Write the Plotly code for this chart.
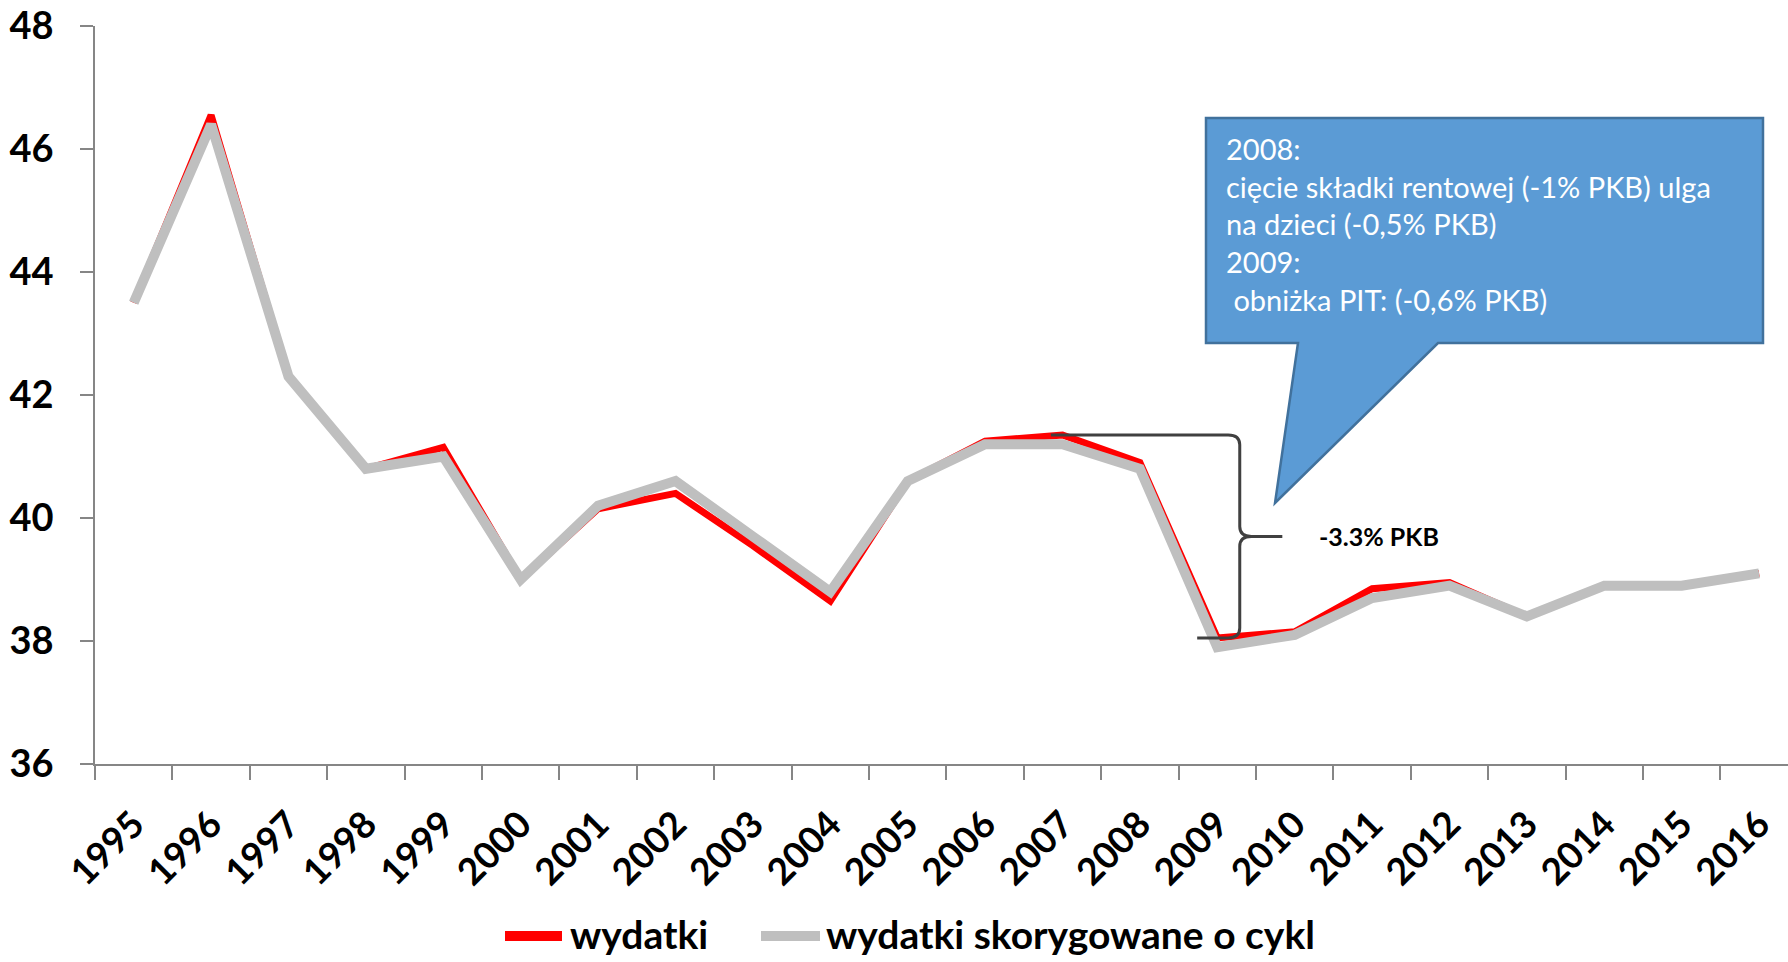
import plotly.graph_objects as go

# ---- data -------------------------------------------------------------
years = list(range(1995, 2017))
wydatki = [43.5, 46.55, 42.3, 40.8, 41.15, 39.0, 40.15, 40.4, 39.55, 38.65, 40.6,
           41.25, 41.35, 40.9, 38.05, 38.15, 38.85, 38.95, 38.4, 38.9, 38.9, 39.1]
wydatki_skorygowane = [43.5, 46.4, 42.3, 40.8, 41.0, 39.0, 40.2, 40.6, 39.7, 38.8, 40.6,
                       41.2, 41.2, 40.8, 37.9, 38.1, 38.7, 38.9, 38.4, 38.9, 38.9, 39.1]
y_ticks = [36, 38, 40, 42, 44, 46, 48]
series_names = ["wydatki", "wydatki skorygowane o cykl"]
series_colors = ["#FF0000", "#BFBFBF"]
series_widths = [7, 10]
callout_lines = [
    "2008:",
    "cięcie składki rentowej (-1% PKB) ulga",
    "na dzieci (-0,5% PKB)",
    "2009:",
    "\u00a0obniżka PIT: (-0,6% PKB)",
]

# ---- page geometry (pixels) -------------------------------------------
W, H = 1788, 962
M_L, M_R, M_T, M_B = 95, 0, 26, 198
PLOT_W = W - M_L - M_R
PLOT_H = H - M_T - M_B
CAT_W = 77.4  # pixel width of one year slot


def px(xp):
    return (xp - M_L) / PLOT_W


def py(yp):
    return (H - M_B - yp) / PLOT_H


FONT = "Lato"
AXIS_GREY = "#868686"

fig = go.Figure()
for name, values, color, width in zip(series_names, [wydatki, wydatki_skorygowane],
                                      series_colors, series_widths):
    fig.add_trace(go.Scatter(
        x=years, y=values, name=name, mode="lines",
        line=dict(color=color, width=width, shape="linear"),
    ))

# ---- brace spanning the 2007 -> 2009 drop -----------------------------
i07, i09 = years.index(2007), years.index(2009)
y_top, y_bot = wydatki[i07], wydatki[i09]
y_mid = (y_top + y_bot) / 2
x_start, x_spine, x_tip, x_end = 2006.85, 2009.29, 2009.84, 2008.74
rx, ry = 0.15, 0.16
brace = (
    f"M {x_start},{y_top} L {x_spine - rx},{y_top} "
    f"Q {x_spine},{y_top} {x_spine},{y_top - ry} "
    f"L {x_spine},{y_mid + ry} Q {x_spine},{y_mid} {x_spine + rx},{y_mid} "
    f"L {x_tip},{y_mid} "
    f"M {x_spine + rx},{y_mid} Q {x_spine},{y_mid} {x_spine},{y_mid - ry} "
    f"L {x_spine},{y_bot + ry} Q {x_spine},{y_bot} {x_spine - rx},{y_bot} "
    f"L {x_end},{y_bot}"
)
fig.add_shape(type="path", path=brace, xref="x", yref="y",
              line=dict(color="#404040", width=3))
fig.add_annotation(
    x=2010.29, y=y_mid, xref="x", yref="y", xanchor="left", yanchor="middle",
    text=f"{y_bot - y_top:.1f}% PKB", showarrow=False,
    font=dict(family=FONT, size=25, color="black", weight="bold"),
)

# ---- speech-bubble callout --------------------------------------------
bubble_pts = [(1206, 118), (1763, 118), (1763, 343), (1438, 343),
              (1275, 503), (1298, 343), (1206, 343)]
bubble = "M " + " L ".join(f"{px(a):.5f},{py(b):.5f}" for a, b in bubble_pts) + " Z"
fig.add_shape(type="path", path=bubble, xref="paper", yref="paper",
              fillcolor="#5B9BD5", line=dict(color="#41719C", width=2.5), layer="above")
fig.add_annotation(
    x=px(1224), y=py(129), xref="paper", yref="paper", xanchor="left", yanchor="top",
    text="<br>".join(callout_lines), align="left", showarrow=False,
    font=dict(family=FONT, size=29, color="white"),
)

# ---- legend drawn below the axis --------------------------------------
legend_y = 934
legend_entries = [(505, 562, 568), (761, 820, 824)]  # line start, line end, text start
for (x0, x1, xt), name, color in zip(legend_entries, series_names, series_colors):
    fig.add_shape(type="line", xref="paper", yref="paper",
                  x0=px(x0), x1=px(x1), y0=py(legend_y + 2), y1=py(legend_y + 2),
                  line=dict(color=color, width=10))
    fig.add_annotation(
        x=px(xt), y=py(legend_y), xref="paper", yref="paper",
        xanchor="left", yanchor="middle", text=name, showarrow=False,
        font=dict(family=FONT, size=39, color="black", weight="bold"),
    )

# ---- axes & layout ----------------------------------------------------
x_lo = years[0] - 0.5
fig.update_xaxes(
    range=[x_lo, x_lo + PLOT_W / CAT_W],
    tickmode="array", tickvals=years, ticktext=[str(y) for y in years],
    tickangle=-45, ticks="", ticklabelstandoff=22,
    tickfont=dict(family=FONT, size=37, color="black", weight="bold"),
    showline=True, linecolor=AXIS_GREY, linewidth=1.5,
    showgrid=False, zeroline=False, automargin=False,
    minor=dict(tick0=x_lo, dtick=1, ticks="outside", ticklen=14,
               tickcolor=AXIS_GREY, tickwidth=1.5, showgrid=False),
)
fig.update_yaxes(
    range=[y_ticks[0], y_ticks[-1]], tickmode="array", tickvals=y_ticks,
    ticks="outside", ticklen=13, tickcolor=AXIS_GREY, tickwidth=1.5,
    ticklabelstandoff=19,
    tickfont=dict(family=FONT, size=38, color="black", weight="bold"),
    showline=True, linecolor=AXIS_GREY, linewidth=1.5,
    showgrid=False, zeroline=False, automargin=False,
)
fig.update_layout(
    width=W, height=H,
    margin=dict(l=M_L, r=M_R, t=M_T, b=M_B, pad=0, autoexpand=False),
    paper_bgcolor="white", plot_bgcolor="white",
    showlegend=False,
)

fig.write_html("out.html")
